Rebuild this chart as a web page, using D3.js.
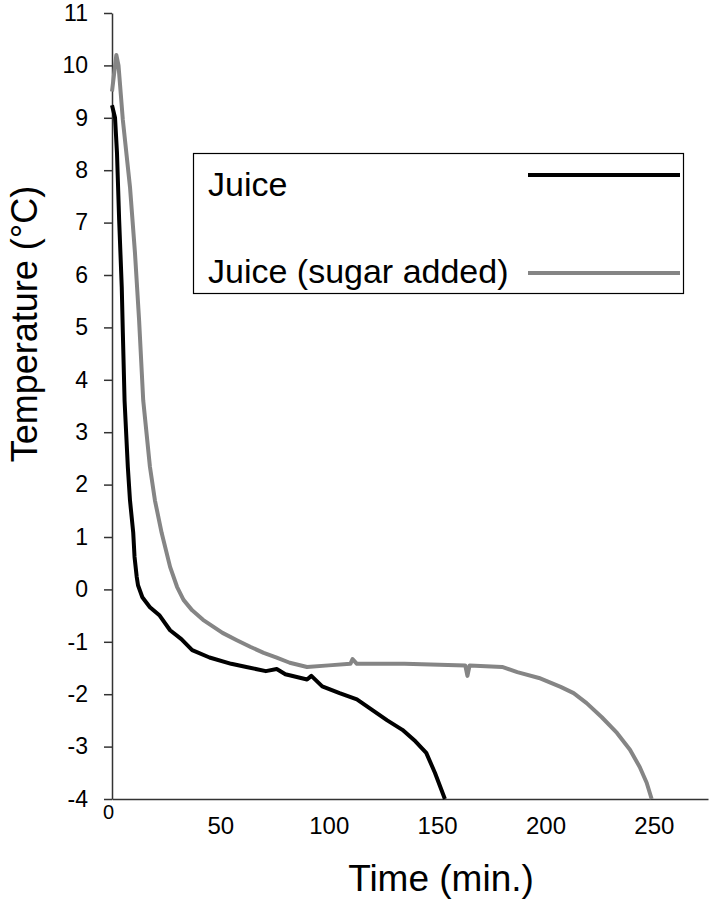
<!DOCTYPE html>
<html>
<head>
<meta charset="utf-8">
<script src="https://cdn.jsdelivr.net/npm/d3@7"></script>
<style>
  body { margin: 0; background: #fff; }
  svg { font-family: "Liberation Sans", Arial, sans-serif; }
</style>
</head>
<body>
<div id="chart"></div>
<script>
// [time (min), temperature (C)]
var juice = [
  [0, 9.24], [1.4, 9.0], [2.3, 8.33], [3.3, 7.05], [4.5, 5.77], [5, 4.9], [5.8, 3.6],
  [7.3, 2.34], [8.3, 1.7], [9.8, 1.08], [10.4, 0.62], [11.4, 0.24], [12, 0.08],
  [14, -0.15], [17.5, -0.34], [22, -0.5], [26.8, -0.78], [32, -0.95], [37, -1.16],
  [45, -1.3], [55, -1.42], [62, -1.48], [71, -1.56], [76, -1.52], [80, -1.62],
  [90, -1.72], [92, -1.65], [97, -1.85], [105, -1.98], [113, -2.1], [120, -2.3],
  [127, -2.5], [134, -2.68], [140, -2.9], [145, -3.12], [149, -3.5], [153.6, -4]
];
var juiceSugar = [
  [0, 9.5], [2, 10.2], [3, 10.0], [5, 8.96], [8.3, 7.68], [10.6, 6.42], [12.5, 5.14],
  [14.4, 3.61], [17.5, 2.34], [19.8, 1.7], [22.9, 1.08], [26.8, 0.43], [30, 0.05],
  [33, -0.2], [37, -0.4], [42, -0.58], [51, -0.83], [57.6, -0.97], [64, -1.1],
  [70, -1.21], [76, -1.3], [82, -1.4], [90, -1.48], [100, -1.45], [110, -1.42],
  [111, -1.33], [113, -1.42], [135, -1.42], [151, -1.44], [163, -1.45], [164, -1.65],
  [165, -1.45], [180, -1.48], [187, -1.58], [197, -1.69], [207, -1.86], [213, -1.98],
  [219, -2.17], [226, -2.44], [233, -2.74], [239, -3.06], [243.5, -3.39],
  [246.7, -3.69], [249, -4]
];
var seriesNames = ["Juice", "Juice (sugar added)"];
var seriesColors = ["#000000", "#858585"];
var xTicks = [0, 50, 100, 150, 200, 250];
var yTicks = d3.range(-4, 12, 1);

var width = 712, height = 900;

var svg = d3.select("#chart").append("svg")
  .attr("width", width)
  .attr("height", height);

var x = d3.scaleLinear().domain([0, 275]).range([112, 708]);
var y = d3.scaleLinear().domain([-4, 11]).range([799, 13]);

// y axis (plain hyphen for negatives, like the original)
var yAxis = svg.append("g")
  .attr("transform", "translate(112,0)")
  .call(d3.axisLeft(y).tickValues(yTicks).tickFormat(d => String(d))
    .tickSize(8).tickPadding(16).tickSizeOuter(0));
yAxis.select(".domain").attr("stroke", "#333").attr("stroke-width", 1.5);
yAxis.selectAll(".tick line").attr("stroke", "#333").attr("stroke-width", 1.5);
yAxis.selectAll(".tick text").attr("font-size", "23px").attr("fill", "#000")
  .attr("font-family", "Liberation Sans, Arial, sans-serif");

// x axis
var xAxis = svg.append("g")
  .attr("transform", "translate(0,799)")
  .call(d3.axisBottom(x).tickValues(xTicks).tickSize(0).tickPadding(18).tickSizeOuter(0));
xAxis.select(".domain").attr("stroke", "#333").attr("stroke-width", 1.5);
xAxis.selectAll(".tick text").attr("font-size", "24px").attr("fill", "#000")
  .attr("font-family", "Liberation Sans, Arial, sans-serif");
xAxis.selectAll(".tick").filter(d => d === 0).select("text")
  .attr("font-size", "20px").attr("dy", "0").attr("y", 20).attr("x", -4);

// lines
var line = d3.line().x(d => x(d[0])).y(d => y(d[1]));
[juice, juiceSugar].forEach(function (s, i) {
  svg.append("path")
    .datum(s)
    .attr("fill", "none")
    .attr("stroke", seriesColors[i])
    .attr("stroke-width", 4)
    .attr("stroke-linejoin", "round")
    .attr("d", line);
});

// legend
var legend = svg.append("g");
legend.append("rect")
  .attr("x", 193.5).attr("y", 153.5)
  .attr("width", 490).attr("height", 140)
  .attr("fill", "#fff").attr("stroke", "#000").attr("stroke-width", 1.2);
var legendY = [{ text: 196, line: 175 }, { text: 283, line: 273 }];
seriesNames.forEach(function (name, i) {
  legend.append("text")
    .attr("x", 208).attr("y", legendY[i].text)
    .attr("font-size", "34px")
    .attr("fill", "#000")
    .text(name);
  legend.append("line")
    .attr("x1", 528).attr("x2", 680)
    .attr("y1", legendY[i].line).attr("y2", legendY[i].line)
    .attr("stroke", seriesColors[i])
    .attr("stroke-width", 4);
});

// axis titles
svg.append("text")
  .attr("x", 441).attr("y", 891)
  .attr("text-anchor", "middle")
  .attr("font-size", "37px")
  .text("Time (min.)");

svg.append("text")
  .attr("transform", "translate(37,324) rotate(-90)")
  .attr("text-anchor", "middle")
  .attr("font-size", "36px")
  .text("Temperature (\u00B0C)");
</script>
</body>
</html>
